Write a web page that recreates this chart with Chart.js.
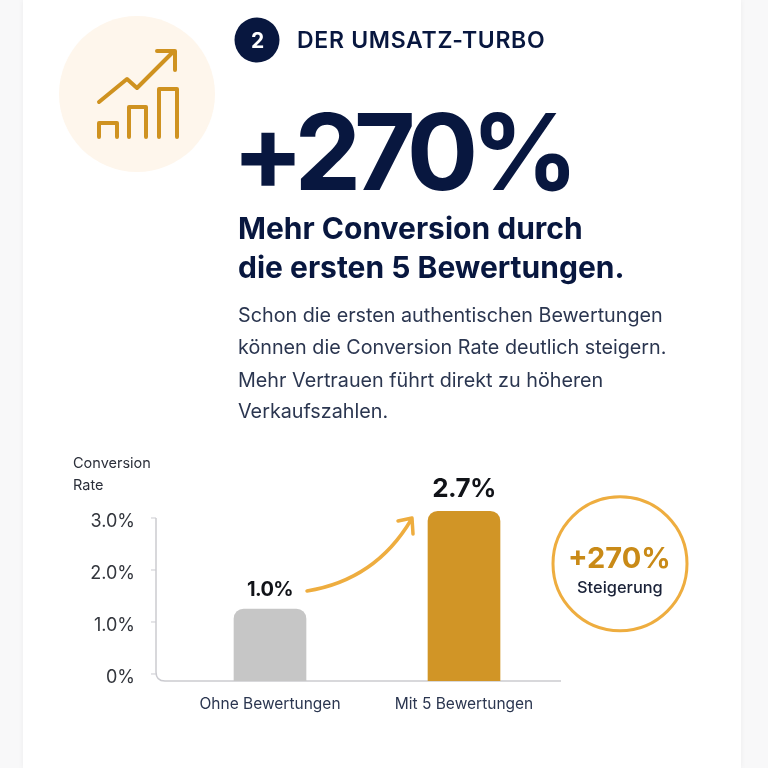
<!DOCTYPE html>
<html lang="de">
<head>
<meta charset="utf-8">
<script src="https://cdn.jsdelivr.net/npm/chart.js@4"></script>
<style>
  html, body { margin: 0; padding: 0; width: 768px; height: 768px; overflow: hidden; background: #f8f8f9; font-family: Inter, sans-serif; }
  #card { position: absolute; left: 23px; top: 0; width: 718px; height: 768px; background: #fff; box-shadow: 0 0 6px rgba(0,0,0,.05); }
  canvas, svg { position: absolute; left: 0; top: 0; }
  .t { position: absolute; white-space: nowrap; color: #08173f; line-height: 1; }
</style>
</head>
<body>
<div id="card"></div>
<svg width="768" height="768" fill="none">
  <circle cx="137" cy="94" r="78" fill="#fef6ec"/>
  <g stroke="#cf9220" stroke-width="4" stroke-linecap="round" stroke-linejoin="round">
    <path d="M99 102L127 79L137 88L174 51M157 51H175V70"/>
    <path d="M99 137V123H117V137M129 137V107H146V137M159 137V89H177V137"/>
  </g>
  <circle cx="257" cy="40" r="22.5" fill="#08173f"/>
  <circle cx="620" cy="563.7" r="67" stroke="#eead3f" stroke-width="3"/>
  <g stroke="#eead3f" stroke-width="3.5" stroke-linecap="round" stroke-linejoin="round">
    <path d="M307 591C350 584 386 562 411 520M398 521L412 518L413 534"/>
  </g>
</svg>
<canvas id="chart" width="768" height="768"></canvas>

<div class="t" style="left:251px;top:30px;font-size:21px;font-weight:700;color:#fff">2</div>
<div class="t" style="left:297px;top:29px;font-size:23px;font-weight:600;letter-spacing:.7px">DER UMSATZ-TURBO</div>
<div class="t" style="left:232px;top:99px;font-size:106px;font-weight:700;letter-spacing:-7.2px">+270%</div>
<div class="t" style="left:238px;top:213px;font-size:30px;font-weight:700">Mehr Conversion durch</div>
<div class="t" style="left:238px;top:252px;font-size:30px;font-weight:700">die ersten 5 Bewertungen.</div>
<div class="t" style="left:238px;top:306px;font-size:19.75px;color:#2b3650">Schon die ersten authentischen Bewertungen</div>
<div class="t" style="left:238px;top:338px;font-size:19.75px;color:#2b3650">können die Conversion Rate deutlich steigern.</div>
<div class="t" style="left:238px;top:371px;font-size:19.75px;color:#2b3650">Mehr Vertrauen führt direkt zu höheren</div>
<div class="t" style="left:238px;top:402px;font-size:19.75px;color:#2b3650">Verkaufszahlen.</div>
<div class="t" style="left:73px;top:456px;font-size:14.5px;color:#2b2f3a">Conversion</div>
<div class="t" style="left:73px;top:478px;font-size:14.5px;color:#2b2f3a">Rate</div>
<div class="t" style="left:568px;top:543px;font-size:29px;font-weight:700;color:#c98a17">+270%</div>
<div class="t" style="left:577px;top:579px;font-size:16.4px;font-weight:500;color:#1a2238">Steigerung</div>

<script>
const categories = ['Ohne Bewertungen', 'Mit 5 Bewertungen']
// bar heights as they are drawn against the axis, the printed labels differ from them
const barValues = [1.25, 3.13]
const barLabels = ['1.0%', '2.7%']
const barColors = ['#c6c6c6', '#d19526']
const tickValues = [0, 1, 2, 3]
const tickLabels = ['0%', '1.0%', '2.0%', '3.0%']
const labelSizes = [20, 26]
const labelOffsets = [19, 22]

const axisMin = -0.135

// the axis line stops at the top tick and has a rounded corner, so it is drawn by hand
const axisPlugin = {
  id: 'axisLine',
  beforeDatasetsDraw(chart) {
    const ctx = chart.ctx, y = chart.scales.y
    const x0 = 156, base = chart.chartArea.bottom, right = chart.chartArea.right
    ctx.save()
    ctx.strokeStyle = '#cbcbd0'
    ctx.lineWidth = 1.5
    ctx.beginPath()
    ctx.moveTo(x0, y.getPixelForValue(3))
    ctx.lineTo(x0, base - 9)
    ctx.quadraticCurveTo(x0, base, x0 + 9, base)
    ctx.lineTo(right, base)
    ctx.stroke()
    ctx.lineWidth = 1
    ctx.fillStyle = '#33363d'
    ctx.font = '18px Inter'
    ctx.textAlign = 'right'
    ctx.textBaseline = 'middle'
    tickValues.forEach((v, i) => {
      const py = y.getPixelForValue(v)
      ctx.beginPath()
      ctx.moveTo(x0 - 5, py)
      ctx.lineTo(x0, py)
      ctx.stroke()
      ctx.fillText(tickLabels[i], 135, py + 4)
    })
    ctx.restore()
  }
}

const valuePlugin = {
  id: 'valueLabels',
  afterDatasetsDraw(chart) {
    const ctx = chart.ctx
    ctx.save()
    ctx.textAlign = 'center'
    ctx.textBaseline = 'middle'
    ctx.fillStyle = '#111318'
    ctx.letterSpacing = '-0.6px'
    chart.getDatasetMeta(0).data.forEach((bar, i) => {
      ctx.font = '700 ' + labelSizes[i] + 'px Inter'
      ctx.fillText(barLabels[i], bar.x, bar.y - labelOffsets[i])
    })
    ctx.restore()
  }
}

new Chart(document.getElementById('chart'), {
  type: 'bar',
  data: {
    labels: categories,
    datasets: [{
      data: barValues,
      base: axisMin,
      backgroundColor: barColors,
      barThickness: 72,
      borderRadius: { topLeft: 10, topRight: 10 },
      borderSkipped: 'bottom'
    }]
  },
  plugins: [axisPlugin, valuePlugin],
  options: {
    responsive: false,
    animation: false,
    layout: { padding: { top: 502.4, right: 207, left: 0, bottom: 0 } },
    plugins: { legend: { display: false }, tooltip: { enabled: false } },
    scales: {
      x: {
        grid: { display: false, drawTicks: false },
        border: { display: false },
        ticks: { padding: 14, color: '#2b3650', font: { family: 'Inter', size: 15.5 }, maxRotation: 0 },
        afterFit(s) { s.height = 87 }
      },
      y: {
        min: axisMin,
        max: 3.3,
        grid: { display: false, drawTicks: false },
        border: { display: false },
        afterBuildTicks(s) { s.ticks = tickValues.map(v => ({ value: v })) },
        ticks: { display: false },
        afterFit(s) { s.width = 173 }
      }
    }
  }
})
</script>
</body>
</html>
